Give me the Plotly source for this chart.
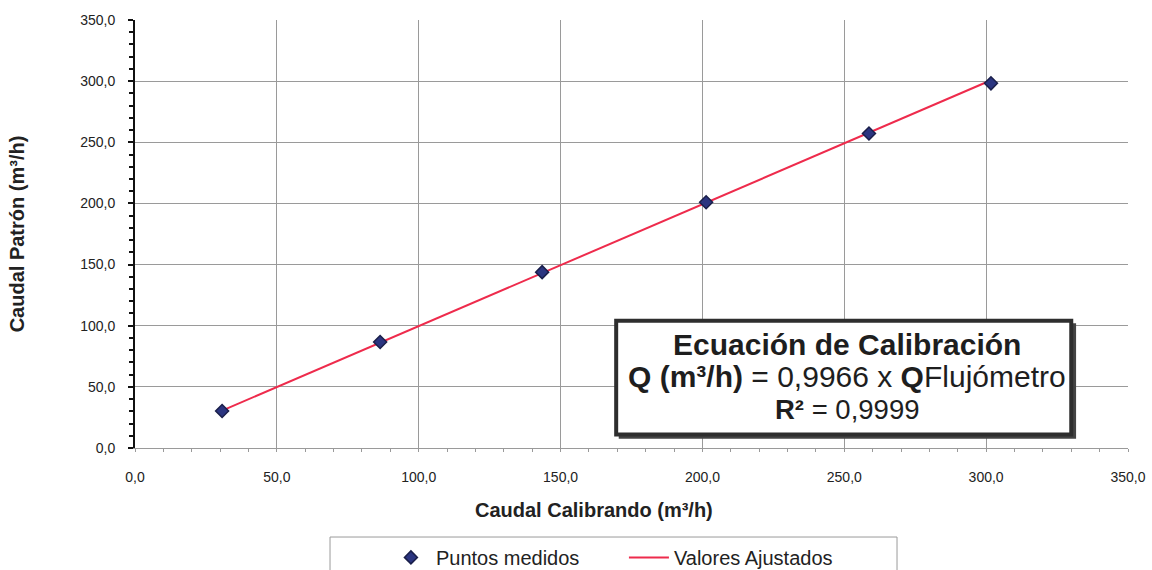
import plotly.graph_objects as go

caudal_calibrando = [30.7, 86.4, 143.5, 201.3, 258.7, 301.7]
caudal_patron = [30.3, 86.7, 143.8, 201.0, 257.2, 298.2]
valores_ajustados = [30.6, 86.1, 143.0, 200.6, 257.8, 300.7]
ticks = [0, 50, 100, 150, 200, 250, 300, 350]

FONT = "Liberation Sans, Arial, sans-serif"

fig = go.Figure()
fig.add_trace(go.Scatter(
    x=caudal_calibrando, y=valores_ajustados, mode="lines",
    name="Valores Ajustados", line=dict(color="#ee2b4c", width=2)))
fig.add_trace(go.Scatter(
    x=caudal_calibrando, y=caudal_patron, mode="markers",
    name="Puntos medidos",
    marker=dict(symbol="diamond", size=10, color="#2b3580",
                line=dict(color="#1a1f4a", width=1.5))))

# equation box: shadow + framed white box
fig.add_shape(type="rect", xref="x", yref="y", x0=170.5, x1=331.7, y0=7.6, y1=102.0,
              fillcolor="#444444", line=dict(width=0), layer="above")
fig.add_shape(type="rect", xref="x", yref="y", x0=169.6, x1=330.0, y0=11.0, y1=104.0,
              fillcolor="white", line=dict(color="#2e2e2e", width=4), layer="above")

lines_txt = ["<b>Ecuación de Calibración</b>",
             "<b>Q (m³/h)</b> = 0,9966 x <b>Q</b>Flujómetro",
             "<b>R²</b> = 0,9999"]
lines_y = [85.0, 58.1, 31.1]
lines_size = [30, 30, 27.5]
for t, yy, sz in zip(lines_txt, lines_y, lines_size):
    fig.add_annotation(x=250.8, y=yy, xref="x", yref="y", xanchor="center", yanchor="middle",
                       showarrow=False, text=t,
                       font=dict(family=FONT, size=sz, color="#1e1e1e"))

# x-axis title (placed slightly left of centre, as in the original)
fig.add_annotation(x=0.462, y=-0.145, xref="paper", yref="paper", xanchor="center",
                   yanchor="middle", showarrow=False,
                   text="<b>Caudal Calibrando (m³/h)</b>",
                   font=dict(family=FONT, size=20, color="#222222"))

# legend frame
fig.add_shape(type="rect", xref="paper", yref="paper", x0=0.1964, x1=0.7674,
              y0=-0.40, y1=-0.208, line=dict(color="#9a9a9a", width=1),
              fillcolor="rgba(0,0,0,0)", layer="above")

fig.update_layout(
    width=1152, height=570,
    margin=dict(l=135, r=24, t=20, b=122, autoexpand=False),
    paper_bgcolor="white", plot_bgcolor="white",
    separators=",.",
    font=dict(family=FONT, color="#222222"),
    showlegend=True,
    legend=dict(orientation="h", x=0.2527, xanchor="left", y=-0.21, yanchor="top",
                borderwidth=0, bgcolor="rgba(0,0,0,0)",
                font=dict(size=20, color="#222222"),
                traceorder="reversed", entrywidth=183, itemwidth=40),
)
fig.update_xaxes(
    range=[0, 350], tickvals=ticks, tickformat=".1f", automargin=False,
    showgrid=True, gridcolor="#9a9a9a", gridwidth=1,
    showline=True, linecolor="#9a9a9a", linewidth=1, mirror=False,
    ticks="outside", ticklen=3, tickcolor="#9a9a9a", ticklabelstandoff=13,
    minor=dict(dtick=10, ticks="outside", ticklen=3, tickcolor="#9a9a9a", showgrid=False),
    tickfont=dict(size=14, color="#222222"), zeroline=False)
fig.update_yaxes(
    range=[0, 350], tickvals=ticks, tickformat=".1f", automargin=False,
    showgrid=True, gridcolor="#9a9a9a", gridwidth=1,
    showline=True, linecolor="#111111", linewidth=2,
    ticks="outside", ticklen=5, tickcolor="#111111", tickwidth=2, ticklabelstandoff=10,
    minor=dict(dtick=10, ticks="outside", ticklen=4, tickcolor="#111111", tickwidth=2, showgrid=False),
    tickfont=dict(size=14, color="#222222"), zeroline=False,
    title=dict(text="<b>Caudal Patrón (m³/h)</b>", font=dict(size=20), standoff=50))

fig.write_html("out.html")
